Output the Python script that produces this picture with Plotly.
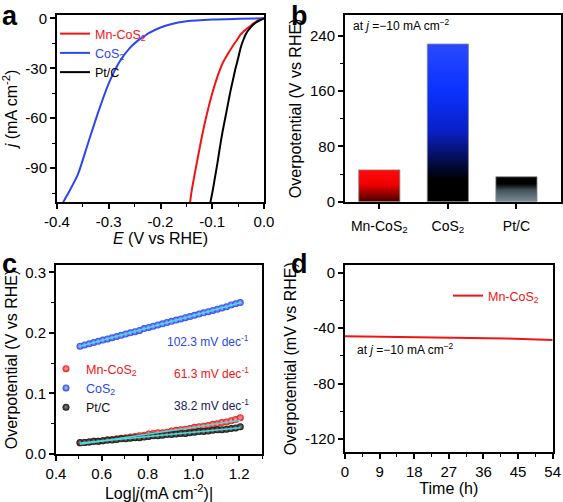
import numpy as np
import plotly.graph_objects as go

# ---------------- data ----------------
# Panel a: polarization curves
E_mn = [0, -0.01, -0.02, -0.03, -0.04, -0.046, -0.05, -0.06, -0.07, -0.08, -0.09, -0.10, -0.11, -0.12, -0.13, -0.14, -0.143]
j_mn = [0, -1, -3, -5.5, -8, -10, -12, -16.5, -21.5, -27, -35, -45, -57, -71, -87, -104, -111]
E_co = [0, -0.05, -0.10, -0.15, -0.18, -0.20, -0.22, -0.228, -0.24, -0.26, -0.28, -0.30, -0.32, -0.34, -0.36, -0.38, -0.389]
j_co = [0, -0.3, -0.7, -1.8, -3.5, -5.5, -8.5, -10, -12.5, -18, -26.5, -39, -56, -75, -94, -106, -111]
E_pt = [0, -0.01, -0.02, -0.03, -0.036, -0.04, -0.045, -0.05, -0.055, -0.06, -0.065, -0.07, -0.075, -0.08, -0.085, -0.09, -0.095, -0.10, -0.104]
j_pt = [0, -1.5, -3.5, -7, -10, -13, -17.5, -24, -30, -37, -44, -52, -60, -68, -77, -87, -96, -105, -111]

# Panel b: overpotential at -10 mA cm-2
cats = ["Mn-CoS<sub>2</sub>", "CoS<sub>2</sub>", "Pt/C"]
eta_b = [46, 228, 36]

# Panel c: Tafel plots
logj = [0.505, 0.525, 0.545, 0.565, 0.585, 0.605, 0.625, 0.645, 0.665, 0.685, 0.705, 0.725,
        0.745, 0.765, 0.785, 0.805, 0.825, 0.845, 0.865, 0.885, 0.905, 0.925, 0.945, 0.965,
        0.985, 1.005, 1.025, 1.045, 1.065, 1.085, 1.105, 1.125, 1.145, 1.165, 1.185, 1.205]
taf_co = [0.178, 0.180, 0.182, 0.184, 0.186, 0.188, 0.190, 0.192, 0.194, 0.196, 0.198, 0.200,
          0.202, 0.204, 0.207, 0.209, 0.211, 0.213, 0.215, 0.217, 0.219, 0.221, 0.223, 0.225,
          0.227, 0.229, 0.231, 0.233, 0.235, 0.237, 0.239, 0.241, 0.243, 0.246, 0.248, 0.250]
taf_mn = [0.018, 0.019, 0.020, 0.021, 0.021, 0.022, 0.023, 0.024, 0.025, 0.026, 0.027, 0.028,
          0.029, 0.030, 0.031, 0.033, 0.034, 0.035, 0.035, 0.036, 0.038, 0.039, 0.040, 0.041,
          0.042, 0.044, 0.045, 0.046, 0.047, 0.049, 0.050, 0.052, 0.053, 0.055, 0.057, 0.060]
taf_pt = [0.019, 0.019, 0.020, 0.021, 0.021, 0.022, 0.023, 0.023, 0.024, 0.025, 0.025, 0.026,
          0.027, 0.027, 0.028, 0.029, 0.030, 0.030, 0.031, 0.032, 0.032, 0.033, 0.034, 0.034,
          0.035, 0.036, 0.037, 0.037, 0.038, 0.039, 0.040, 0.040, 0.041, 0.042, 0.043, 0.045]
slopes = ["102.3", "61.3", "38.2"]

# Panel d: stability
t_d = [0, 6, 12, 18, 24, 30, 36, 42, 48, 54]
eta_d = [-45.8, -46.0, -46.2, -46.4, -46.7, -46.9, -47.1, -47.5, -48.0, -48.5]

# tick labels
a_xt = [-0.4, -0.3, -0.2, -0.1, 0.0]
a_xl = ["-0.4", "-0.3", "-0.2", "-0.1", "0.0"]
a_yt = [0, -30, -60, -90]
a_yl = ["0", "-30", "-60", "-90"]
d_yt = [0, -40, -80, -120]
d_yl = ["0", "-40", "-80", "-120"]

# ---------------- styling ----------------
RED = "#f01414"
BLUE = "#2b46f0"
BLACK = "#000000"
FONT = "Liberation Sans, Arial, sans-serif"
W, H = 563, 502

def dom_x(a, b):
    return [a / W, b / W]

def dom_y(top, bot):
    return [1 - bot / H, 1 - top / H]

fig = go.Figure()

# ---- panel a ----
for E, j, c, n in [(E_mn, j_mn, RED, "Mn-CoS<sub>2</sub>"),
                   (E_co, j_co, BLUE, "CoS<sub>2</sub>"),
                   (E_pt, j_pt, BLACK, "Pt/C")]:
    fig.add_trace(go.Scatter(x=E, y=j, mode="lines", line=dict(color=c, width=2, shape="spline", smoothing=0.6),
                             name=f"<span style='color:{c}'>{n}</span>", xaxis="x", yaxis="y", legend="legend"))

# ---- panel b (gradient bars) ----
grads = [
    [[0, "#4a0000"], [0.55, "#f00000"], [1, "#ff0a0a"]],
    [[0, "#000000"], [0.14, "#000000"], [0.45, "#0a20c8"], [0.7, "#0a32ff"], [1, "#2a48ff"]],
    [[0, "#7a8c98"], [0.45, "#46545c"], [0.72, "#000000"], [1, "#000000"]],
]
bw = 0.6
for i, v in enumerate(eta_b):
    xs = [i - bw / 2, i + bw / 2, i + bw / 2, i - bw / 2, i - bw / 2]
    ys = [0, 0, v, v, 0]
    fig.add_trace(go.Scatter(x=xs, y=ys, mode="lines", fill="toself",
                             fillgradient=dict(type="vertical", colorscale=grads[i]),
                             line=dict(color="#888888", width=0.8), showlegend=False,
                             hoverinfo="skip", xaxis="x2", yaxis="y2"))

# ---- panel c ----
mk = [(taf_mn, RED, "#ffb4b4", "Mn-CoS<sub>2</sub>"),
      (taf_co, BLUE, "#b8c4ff", "CoS<sub>2</sub>"),
      (taf_pt, "#111111", "#909090", "Pt/C")]
for ys, c, hl, n in mk:
    fig.add_trace(go.Scatter(x=logj, y=ys, mode="markers",
                             marker=dict(color=c, size=7, gradient=dict(type="radial", color=hl), line=dict(width=0)),
                             name=f"<span style='color:{c}'>{n}</span>", xaxis="x3", yaxis="y3", legend="legend2"))
for ys, c, hl, n in mk:
    k, b0 = np.polyfit(logj, ys, 1)
    xf = [logj[0], logj[-1]]
    fig.add_trace(go.Scatter(x=xf, y=[k * xf[0] + b0, k * xf[1] + b0], mode="lines",
                             line=dict(color="#48dcd8", width=1.5), showlegend=False,
                             xaxis="x3", yaxis="y3"))

# ---- panel d ----
fig.add_trace(go.Scatter(x=t_d, y=eta_d, mode="lines", line=dict(color=RED, width=2),
                         name=f"<span style='color:{RED}'>Mn-CoS<sub>2</sub></span>",
                         xaxis="x4", yaxis="y4", legend="legend3"))

axis_common = dict(showline=True, linecolor="black", linewidth=2, mirror=True, automargin=False,
                   ticks="outside", ticklen=5, tickwidth=1.5, tickcolor="black",
                   showgrid=False, zeroline=False,
                   tickfont=dict(size=15, color="black", family=FONT),
                   minor=dict(ticks="outside", ticklen=3, tickwidth=1.2, tickcolor="black", showgrid=False))
title_font = dict(size=16, color="black", family=FONT)
leg_common = dict(xanchor="left", yanchor="top", bgcolor="rgba(0,0,0,0)",
                  font=dict(size=12.5, family=FONT), tracegroupgap=0, itemwidth=30)

fig.update_layout(
    width=W, height=H, margin=dict(l=0, r=0, t=0, b=0, autoexpand=False),
    paper_bgcolor="white", plot_bgcolor="white",
    font=dict(family=FONT, color="black"),
    xaxis=dict(axis_common, domain=dom_x(57, 264), range=[-0.4, 0.0], tickvals=a_xt, ticktext=a_xl,
               minor=dict(axis_common["minor"], dtick=0.05, tick0=0),
               title=dict(text="<i>E</i> (V vs RHE)", font=title_font, standoff=4), anchor="y"),
    yaxis=dict(axis_common, domain=dom_y(15, 202), range=[-110.3, 2], tickvals=a_yt, ticktext=a_yl,
               minor=dict(axis_common["minor"], dtick=15, tick0=0),
               title=dict(text="<i>j</i> (mA cm<sup>-2</sup>)", font=title_font, standoff=4), anchor="x"),
    xaxis2=dict(axis_common, domain=dom_x(345, 561), range=[-0.5, 2.65], tickvals=[0, 1, 2], ticktext=cats,
                tickfont=dict(size=14, color="black", family=FONT), ticklabelstandoff=5,
                minor=dict(ticks=""), anchor="y2"),
    yaxis2=dict(axis_common, domain=dom_y(15, 201.7), range=[0, 270], tickvals=[0, 80, 160, 240],
                minor=dict(axis_common["minor"], dtick=40, tick0=0),
                title=dict(text="Overpotential (V vs RHE)", font=title_font, standoff=4), anchor="x2"),
    xaxis3=dict(axis_common, domain=dom_x(56, 262), range=[0.4, 1.3], dtick=0.2, tick0=0.4, tickformat=".1f",
                minor=dict(axis_common["minor"], dtick=0.1, tick0=0.4),
                title=dict(text="Log|<i>j</i>(mA cm<sup>-2</sup>)|", font=title_font, standoff=4), anchor="y3"),
    yaxis3=dict(axis_common, domain=dom_y(265, 454), range=[0, 0.312], dtick=0.1, tick0=0, tickformat=".1f",
                minor=dict(axis_common["minor"], dtick=0.05, tick0=0),
                title=dict(text="Overpotential (V vs RHE)", font=title_font, standoff=4), anchor="x3"),
    xaxis4=dict(axis_common, domain=dom_x(345, 552.7), range=[0, 54], dtick=9, tick0=0,
                minor=dict(axis_common["minor"], dtick=4.5, tick0=0),
                title=dict(text="Time (h)", font=title_font, standoff=4), anchor="y4"),
    yaxis4=dict(axis_common, domain=dom_y(265, 452.3), range=[-129.6, 5.6], tickvals=d_yt, ticktext=d_yl,
                minor=dict(axis_common["minor"], dtick=20, tick0=0),
                title=dict(text="Overpotential (mV vs RHE)", font=title_font, standoff=4), anchor="x4"),
    legend=dict(leg_common, x=55 / W, y=1 - 19 / H),
    legend2=dict(leg_common, x=46 / W, y=1 - 354 / H),
    legend3=dict(leg_common, x=448 / W, y=1 - 281 / H),
    showlegend=True,
)

# text annotations
ann = []
for lab, xp, yp in [("a", 1, 0), ("b", 290, 0), ("c", 1, 248), ("d", 290, 248)]:
    ann.append(dict(text=f"<b>{lab}</b>", x=xp / W, y=1 - yp / H, xref="paper", yref="paper",
                    xanchor="left", yanchor="top", showarrow=False, borderpad=0,
                    font=dict(size=27, family=FONT, color="black")))
ann.append(dict(text="at <i>j</i> =−10 mA cm<sup>−2</sup>", x=351 / W, y=1 - 25 / H, xref="paper", yref="paper",
                xanchor="left", yanchor="middle", showarrow=False, font=dict(size=12, family=FONT, color="black")))
ann.append(dict(text="at <i>j</i> =−10 mA cm<sup>−2</sup>", x=355 / W, y=1 - 349 / H, xref="paper", yref="paper",
                xanchor="left", yanchor="middle", showarrow=False, font=dict(size=12, family=FONT, color="black")))
for s, c, yv in zip(slopes, [BLUE, RED, "#1a1a60"], [0.187, 0.134, 0.081]):
    ann.append(dict(text=f"{s} mV dec<sup>-1</sup>", x=1.252, y=yv, xref="x3", yref="y3",
                    xanchor="right", yanchor="middle", showarrow=False, font=dict(size=12, family=FONT, color=c)))
fig.update_layout(annotations=ann)

fig.write_html("out.html", config={"displayModeBar": False},
               post_script="document.body.style.margin='0';")
